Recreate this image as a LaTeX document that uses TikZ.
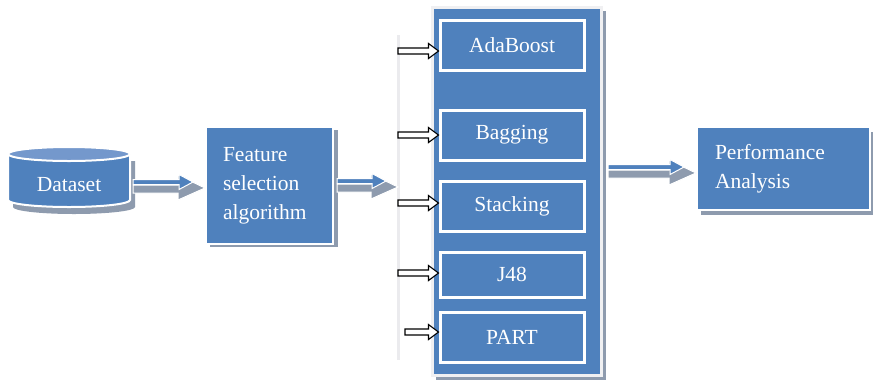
\documentclass[tikz,border=0pt]{standalone}
\usepackage{fontspec}
\setmainfont{Liberation Serif}
\usetikzlibrary{calc}
\definecolor{myblue}{HTML}{4F81BD}
\definecolor{toplight}{HTML}{7498CC}
\definecolor{shgray}{HTML}{8E9BAE}
\definecolor{rimgray}{HTML}{F0F0F2}
\definecolor{vlgray}{HTML}{EBEBEE}
\newcommand\blockarr[2]{%
  \filldraw[shgray, draw=white, line width=1pt] ($(#1)+(0,3)$) -- ($(#2)+(-27,3)$) -- ($(#2)+(-27,-7)$) -- ($(#2)+(0,6)$) -- ($(#2)+(-27,18)$) -- ($(#2)+(-27,11)$) -- ($(#1)+(0,11)$) -- cycle;
  \filldraw[myblue, draw=white, line width=1pt] ($(#1)+(0,-2.5)$) -- ($(#2)+(-26,-2.5)$) -- ($(#2)+(-26,-7.5)$) -- ($(#2)+(-12,0)$) -- ($(#2)+(-26,7.5)$) -- ($(#2)+(-26,2.5)$) -- ($(#1)+(0,2.5)$) -- cycle;
}
\newcommand\hollowarr[2]{%
  \filldraw[fill=white, draw=black, line width=1.1pt, line join=miter] ($(#1)+(0,-3)$) -- ($(#2)+(-10,-3)$) -- ($(#2)+(-10,-7.5)$) -- (#2) -- ($(#2)+(-10,7.5)$) -- ($(#2)+(-10,3)$) -- ($(#1)+(0,3)$) -- cycle;
}
\tikzset{
  txt/.style={font=\fontsize{21.5}{29}\selectfont, text=white},
  bigbox/.style={txt, fill=myblue, draw=white, line width=2pt, inner sep=0pt, align=left},
  algbox/.style={txt, fill=myblue, draw=white, line width=3pt, inner sep=0pt, minimum width=144pt},
  container/.style={fill=myblue, draw=rimgray, line width=3pt, inner sep=0pt, minimum width=169pt, minimum height=368pt},
}
\begin{document}
\begin{tikzpicture}[x=1pt,y=-1pt]
\useasboundingbox[fill=white] (0,0) rectangle (873,381);

% ---- Dataset cylinder ----
\fill[shgray, shift={(5,7)}] (8,154) -- (8,200) arc[start angle=180, end angle=360, x radius=61pt, y radius=7pt] -- (130,154) -- cycle;
\filldraw[myblue, draw=white, line width=2pt] (8,154) -- (8,200) arc[start angle=180, end angle=360, x radius=61pt, y radius=7pt] -- (130,154) arc[start angle=0, end angle=180, x radius=61pt, y radius=7pt] -- cycle;
\filldraw[toplight, draw=white, line width=2pt] (69,154) ellipse[x radius=61pt, y radius=7pt];
\node[txt, inner sep=0pt, minimum width=122pt, minimum height=60pt] (ds) at (69,185) {Dataset};

% ---- Feature selection box ----
\fill[shgray] (210,130) rectangle (338,247);
\node[bigbox, minimum width=127pt, minimum height=117pt, text width=93pt] (fs) at (269.5,185.5) {Feature\\selection\\algorithm};

% ---- Performance box ----
\fill[shgray] (701,132) rectangle (874,215);
\node[bigbox, minimum width=173pt, minimum height=83pt, text width=137pt] (pa) at (783.5,168.5) {Performance\\Analysis};

% ---- container ----
\fill[shgray] (436,11) rectangle (606,380);
\node[container] (ct) at (516.5,191) {};
\node[algbox, minimum height=50pt] (ada) at (512,45) {AdaBoost};
\node[algbox, minimum height=50pt] (bag) at (512,135) {Bagging};
\node[algbox, minimum height=50pt] (stk) at (512,206) {Stacking};
\node[algbox, minimum height=45pt] (j48) at (512,274.5) {J48};
\node[algbox, minimum height=50pt] (part) at (512,337) {PART};

% ---- vertical line ----
\coordinate (vl1) at (398,35);
\coordinate (vl2) at (398,360);
\draw[vlgray, line width=3pt] (vl1) -- (vl2);

% ---- hollow arrows ----
\coordinate (h1) at (398,51);
\coordinate (h2) at (398,135);
\coordinate (h3) at (398,203);
\coordinate (h4) at (398,273);
\coordinate (h5) at (405,332);
\hollowarr{h1}{ada.west |- h1}
\hollowarr{h2}{bag.west |- h2}
\hollowarr{h3}{stk.west |- h3}
\hollowarr{h4}{j48.west |- h4}
\hollowarr{h5}{part.west |- h5}

% ---- block arrows ----
\coordinate (a1s) at (133,182);
\coordinate (a1t) at (205,182);
\blockarr{a1s}{a1t}
\coordinate (a2s) at (337,181);
\coordinate (a2t) at (vl1 |- a2s);
\blockarr{a2s}{a2t}
\coordinate (a3s) at (608,167);
\coordinate (a3t) at (pa.west |- a3s);
\blockarr{a3s}{a3t}
\end{tikzpicture}
\end{document}
